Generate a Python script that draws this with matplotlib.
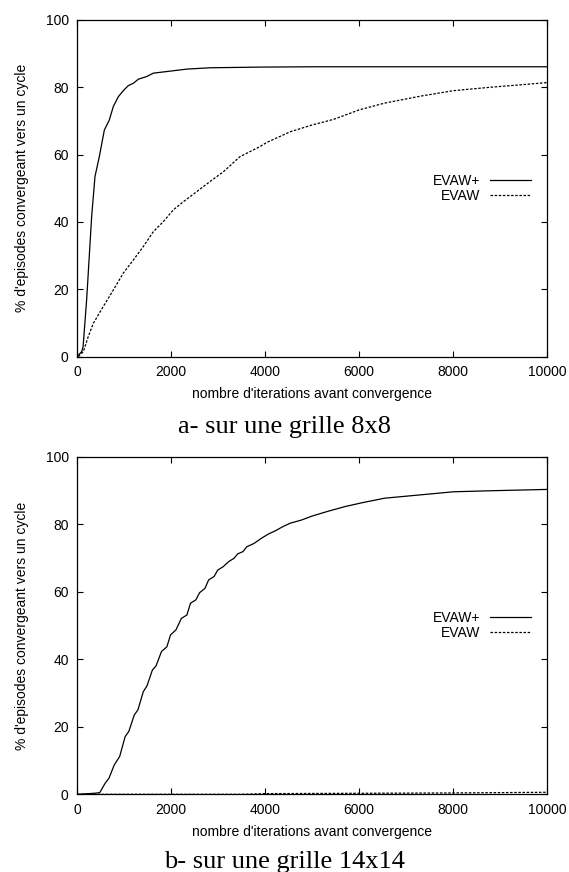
"""
Courbes de convergence EVAW / EVAW+ sur deux grilles (8x8 et 14x14)
"""
import numpy as np
import matplotlib
matplotlib.use('Agg')
import matplotlib.pyplot as plt

plt.rcParams['font.family'] = ['Liberation Sans', 'DejaVu Sans']

# ---------- données ----------
# grille 8x8
x8_plus = [0, 100, 130, 206, 312, 383, 475, 582, 688, 773, 879, 985, 1092, 1199,
           1305, 1482, 1624, 1979, 2334, 2830, 3894, 5000, 7000, 10000]
y8_plus = [0, 1.5, 3, 17, 41.6, 53.5, 59.4, 67.3, 70.3, 74.3, 77.2, 79.0, 80.5, 81.2,
           82.4, 83.2, 84.2, 84.8, 85.4, 85.8, 86.0, 86.1, 86.1, 86.1]

x8_evaw = [28, 135, 241, 348, 560, 773, 985, 1199, 1411, 1624, 1837, 2050, 2262,
           2546, 2830, 3113, 3468, 3894, 4036, 4538, 5000, 5465, 6005, 6545, 7317,
           8013, 8783, 9402, 10000]
y8_evaw = [0, 1.5, 6, 9.9, 14.9, 19.8, 24.8, 28.7, 32.7, 37.1, 40.1, 43.6, 46.0,
           49.0, 52.0, 54.9, 59.4, 62.4, 63.6, 66.8, 68.8, 70.5, 73.3, 75.3, 77.4,
           79.0, 80.0, 80.7, 81.4]

# grille 14x14
x14_plus = [0, 369, 485, 600, 678, 793, 908, 1025, 1102, 1219, 1296, 1411, 1489,
            1604, 1681, 1798, 1913, 1990, 2106, 2221, 2338, 2415, 2530, 2608, 2723,
            2801, 2917, 2994, 3109, 3226, 3341, 3419, 3534, 3611, 3766, 3920, 4074,
            4229, 4383, 4538, 4770, 5000, 5310, 5696, 6081, 6545, 7240, 8013, 8783,
            10000]
y14_plus = [0, 0.3, 0.5, 3.3, 4.7, 8.7, 11.2, 17.1, 18.6, 23.5, 25.0, 30.4, 32.1,
            36.8, 38.0, 42.3, 43.7, 47.2, 48.7, 52.1, 53.1, 56.6, 57.6, 59.7, 61.0,
            63.5, 64.5, 66.4, 67.4, 68.9, 69.9, 71.2, 71.9, 73.3, 74.3, 75.8, 77.1,
            78.1, 79.3, 80.3, 81.2, 82.4, 83.7, 85.2, 86.4, 87.7, 88.6, 89.6, 89.9,
            90.3]

x14_evaw = [0, 2000, 3500, 4000, 5000, 6000, 7000, 8000, 9000, 10000]
y14_evaw = [0, 0, 0, 0.2, 0.25, 0.3, 0.35, 0.4, 0.5, 0.6]

panels = [
    (x8_plus, y8_plus, x8_evaw, y8_evaw, 'a- sur une grille 8x8'),
    (x14_plus, y14_plus, x14_evaw, y14_evaw, 'b- sur une grille 14x14'),
]

# ---------- figure ----------
fig = plt.figure(figsize=(5.69, 8.72), dpi=100)

axes_rects = [
    [0.1353, 0.591, 0.826, 0.3861],
    [0.1353, 0.0891, 0.826, 0.3872],
]
caption_y = [0.504, 0.005]

for rect, cap_y, (xp, yp, xe, ye, caption) in zip(axes_rects, caption_y, panels):
    ax = fig.add_axes(rect)
    ax.plot(xp, yp, color='black', linewidth=0.9, label='EVAW+')
    ax.plot(xe, ye, color='black', linewidth=0.9, linestyle=(0, (2.0, 1.3)), label='EVAW')

    ax.set_xlim(0, 10000)
    ax.set_ylim(0, 100)
    ax.set_xticks(np.arange(0, 10001, 2000))
    ax.set_yticks(np.arange(0, 101, 20))
    ax.tick_params(direction='in', top=True, right=True, length=4, width=0.8,
                   labelsize=10, pad=6)
    for s in ax.spines.values():
        s.set_linewidth(0.9)

    ax.set_xlabel("nombre d'iterations avant convergence", fontsize=10, labelpad=6)
    ax.set_ylabel("% d'episodes convergeant vers un cycle", fontsize=10, labelpad=12)

    ax.legend(loc='center right', bbox_to_anchor=(0.965, 0.5), frameon=False,
              markerfirst=False, fontsize=10, handlelength=2.9, handletextpad=0.7,
              labelspacing=0.05, borderpad=0, borderaxespad=0)

    fig.text(0.5, cap_y, caption, ha='center', va='baseline', fontsize=19,
             family=['Liberation Serif', 'DejaVu Serif'])

plt.savefig('out.png', dpi=100)
